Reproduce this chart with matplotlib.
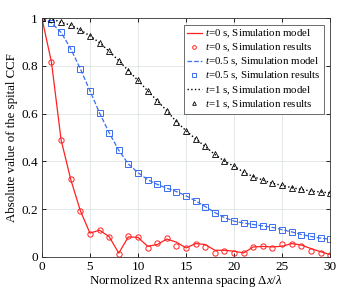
import numpy as np
import matplotlib
matplotlib.use('Agg')
import matplotlib.pyplot as plt

plt.rcParams['font.family'] = ['Liberation Serif', 'DejaVu Serif']
plt.rcParams['mathtext.fontset'] = 'custom'
plt.rcParams['mathtext.rm'] = 'Liberation Serif'
plt.rcParams['mathtext.it'] = 'Liberation Serif:italic'

# Datos
dx = np.arange(0, 31)

t0_modelo = [1.0, 0.815, 0.49, 0.325, 0.194, 0.1, 0.112, 0.085, 0.016, 0.084, 0.082,
             0.045, 0.052, 0.075, 0.062, 0.038, 0.056, 0.052, 0.028, 0.028, 0.024,
             0.017, 0.042, 0.044, 0.042, 0.045, 0.056, 0.05, 0.035, 0.022, 0.01]
t0_sim = [1.0, 0.815, 0.488, 0.325, 0.194, 0.098, 0.114, 0.085, 0.014, 0.086, 0.082,
          0.039, 0.057, 0.078, 0.047, 0.037, 0.054, 0.04, 0.017, 0.025, 0.017,
          0.017, 0.04, 0.046, 0.039, 0.053, 0.055, 0.046, 0.026, 0.017, 0.01]

t05_modelo = [1.0, 0.98, 0.94, 0.872, 0.788, 0.696, 0.603, 0.52, 0.447, 0.389, 0.353,
              0.324, 0.304, 0.288, 0.274, 0.256, 0.235, 0.211, 0.186, 0.165, 0.15,
              0.142, 0.136, 0.13, 0.124, 0.114, 0.105, 0.094, 0.086, 0.079, 0.074]
t05_sim = t05_modelo

t1_modelo = [1.0, 0.998, 0.982, 0.971, 0.95, 0.926, 0.897, 0.861, 0.822, 0.78, 0.739,
             0.696, 0.654, 0.6125, 0.566, 0.529, 0.494, 0.4625, 0.429, 0.401, 0.38,
             0.355, 0.336, 0.322, 0.308, 0.3, 0.29, 0.283, 0.276, 0.272, 0.268]
t1_sim = t1_modelo

rojo = '#ff2020'
azul = '#3a6df0'
negro = '#000000'

fig = plt.figure(figsize=(3.49, 2.92), dpi=100)
ax = fig.add_axes([0.12, 0.12, 0.826, 0.818])

ax.plot(dx, t0_modelo, '-', color=rojo, lw=0.9, label=r'$t$=0 s, Simulation model')
ax.plot(dx, t0_sim, 'o', color=rojo, ms=3.8, mfc='none', mew=0.7,
        label=r'$t$=0 s, Simulation results')
ax.plot(dx, t05_modelo, '--', color=azul, lw=0.9, label=r'$t$=0.5 s, Simulation model')
ax.plot(dx, t05_sim, 's', color=azul, ms=3.8, mfc='none', mew=0.7,
        label=r'$t$=0.5 s, Simulation results')
ax.plot(dx, t1_modelo, ':', color=negro, lw=1.0, label=r'$t$=1 s, Simulation model')
ax.plot(dx, t1_sim, '^', color=negro, ms=3.8, mfc='none', mew=0.6,
        label=r'$t$=1 s, Simulation results')

ax.set_xlim(0, 30)
ax.set_ylim(0, 1)
ax.set_xticks([0, 5, 10, 15, 20, 25, 30])
ax.set_yticks([0, 0.2, 0.4, 0.6, 0.8, 1])
ax.set_yticklabels(['0', '0.2', '0.4', '0.6', '0.8', '1'])
ax.tick_params(direction='in', labelsize=9.5, length=3, width=0.6,
               top=True, right=True)
ax.tick_params(axis='x', pad=3)
ax.tick_params(axis='y', pad=3)
ax.grid(True, color='#dde3e3', lw=0.6)
ax.set_axisbelow(True)
for s in ax.spines.values():
    s.set_linewidth(0.6)
    s.set_color('#333333')

ax.set_xlabel(r'Normolized Rx antenna spacing $\Delta x/\lambda$', fontsize=9.3, labelpad=0)
ax.set_ylabel('Absolute value of the spital CCF', fontsize=9.3, labelpad=2)

leg = ax.legend(loc='upper right', fontsize=7.8, frameon=True, fancybox=False,
                handlelength=1.4, handletextpad=0.25, borderpad=0.3,
                labelspacing=0.15, borderaxespad=0.6, markerscale=0.7)
leg.get_frame().set_edgecolor('#555555')
leg.get_frame().set_linewidth(0.6)
leg.get_frame().set_alpha(1)

plt.savefig('out.png', dpi=100)
